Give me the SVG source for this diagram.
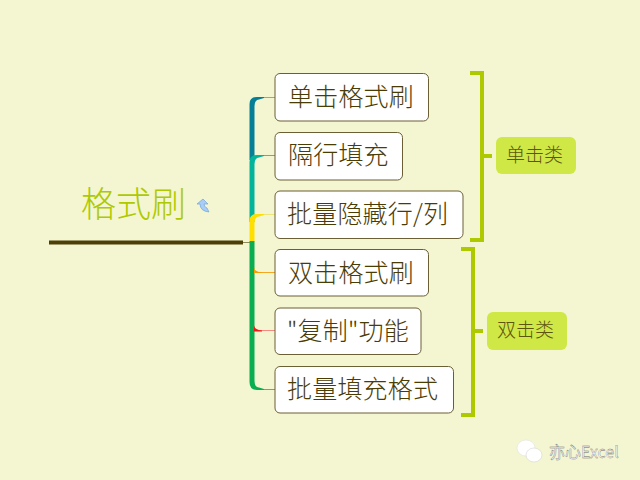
<svg xmlns="http://www.w3.org/2000/svg" width="640" height="480" viewBox="0 0 640 480">
<style>
.n{fill:#fff;stroke:#6b5f35;stroke-width:1}
.t{font-family:"Noto Sans CJK SC","Liberation Sans",sans-serif;font-size:25px;font-weight:300;fill:#4a3c05;letter-spacing:.2px}
.c{fill:#cfe845}
.l{font-family:"Noto Sans CJK SC",sans-serif;font-size:19px;font-weight:300;fill:#5c5510}
.b{fill:none;stroke:#aec900;stroke-width:4}
.h{fill:none;stroke-width:1}
</style>
<rect width="640" height="480" fill="#f4f6d2"/>
<g id="connectors">
<path class="h" d="M243 242.500H251" stroke="#8f8a5c"/>
<path class="h" d="M262 97.500H275" stroke="#6fb5b0"/>
<path class="h" d="M262 155.500H275" stroke="#2ec4ae"/>
<path class="h" d="M262 214.500H275" stroke="#ece67a"/>
<path class="h" d="M256 272.500H275" stroke="#f5a623"/>
<path class="h" d="M256 330.500H275" stroke="#f58a80"/>
<path class="h" d="M262 389.500H275" stroke="#4dbb6d"/>
<path d="M249.500 160V104Q249.500 97 257 97L264 97V98L259 99.500Q254.500 100 254.500 106V160Z" fill="#047f96"/>
<path d="M249.500 222V162Q249.500 155 257 155L264 155V156L259 157.500Q254.500 158 254.500 164V222Z" fill="#03b39a"/>
<path d="M249.500 241V221Q249.500 214 257 214L264 214V215L259 216.500Q254.500 217 254.500 223V241Z" fill="#ffdf00"/>
<path d="M249.500 241H254.500V381Q254.500 387 259 387.500L264 389V390H257Q249.500 390 249.500 382Z" fill="#08ae50"/>
<path d="M254 267.500Q255 272 262 272.500V273H254Z" fill="#f5a000"/>
<path d="M254 325.500Q255 330 262 330.500V331.500H254Z" fill="#f01818"/>
</g>
<g id="root">
<rect x="49" y="240.500" width="194" height="4" fill="#4d3f05"/>
<text x="81" y="217" font-family="'Noto Sans CJK SC',sans-serif" font-size="35" font-weight="300" fill="#aec900">格式刷</text>
<path d="M203 199L197 204H200Q200 211 209 212L207 208Q204 207 204 204H208Z" fill="#a9cdf5" stroke="#6da3e0" stroke-width=".7"/>
</g>
<g id="n1"><rect class="n" x="275" y="73.500" width="153.500" height="47.500" rx="5"/><text class="t" x="288" y="106">单击格式刷</text></g>
<g id="n2"><rect class="n" x="275" y="132.500" width="127.500" height="47.500" rx="5"/><text class="t" x="288" y="164">隔行填充</text></g>
<g id="n3"><rect class="n" x="275" y="191" width="188" height="47.500" rx="5"/><text class="t" x="287" y="223">批量隐藏行/列</text></g>
<g id="n4"><rect class="n" x="275" y="249.500" width="153.500" height="46.500" rx="5"/><text class="t" x="288" y="282">双击格式刷</text></g>
<g id="n5"><rect class="n" x="275" y="308" width="146" height="46.500" rx="5"/><text class="t" x="287" y="340">"复制"功能</text></g>
<g id="n6"><rect class="n" x="275" y="366.500" width="178.500" height="46.500" rx="5"/><text class="t" x="287" y="398">批量填充格式</text></g>
<g id="brace1"><path class="b" d="M470 73H482V240H470M482 156H492"/></g>
<g id="brace2"><path class="b" d="M461 249H473V415H461M473 331H483"/></g>
<g id="c1"><rect class="c" x="496" y="137" width="80" height="37" rx="6"/><text class="l" x="506" y="162">单击类</text></g>
<g id="c2"><rect class="c" x="487" y="312" width="80" height="38" rx="6"/><text class="l" x="497" y="337">双击类</text></g>
<g id="watermark">
<ellipse cx="526" cy="448" rx="9" ry="8" fill="#fff" stroke="#ddd" stroke-width=".5"/>
<ellipse cx="534" cy="455" rx="8" ry="7" fill="#fff" stroke="#ccc" stroke-width=".5"/>
<text x="549" y="458" font-family="'Noto Sans CJK SC','Liberation Sans',sans-serif" font-size="16" fill="#fff" stroke="#666" stroke-width=".35">亦心Excel</text>
</g>
</svg>
